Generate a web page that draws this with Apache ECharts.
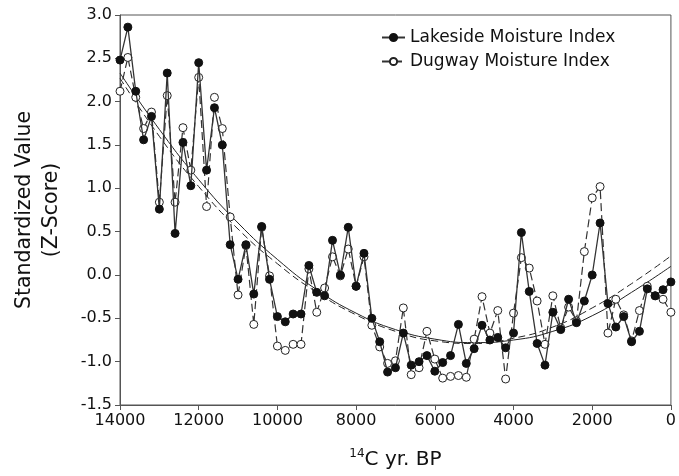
<!DOCTYPE html>
<html>
<head>
<meta charset="utf-8">
<script src="https://cdn.jsdelivr.net/npm/echarts@6/dist/echarts.min.js"></script>
<style>html,body{margin:0;padding:0;background:#fff}#c{width:679px;height:476px}</style>
</head>
<body>
<div id="c"></div>
<script>
const years = [14000,13800,13600,13400,13200,13000,12800,12600,12400,12200,12000,11800,11600,11400,11200,11000,10800,10600,10400,10200,10000,9800,9600,9400,9200,9000,8800,8600,8400,8200,8000,7800,7600,7400,7200,7000,6800,6600,6400,6200,6000,5800,5600,5400,5200,5000,4800,4600,4400,4200,4000,3800,3600,3400,3200,3000,2800,2600,2400,2200,2000,1800,1600,1400,1200,1000,800,600,400,200,0];
const lakeside = [2.48,2.86,2.12,1.56,1.83,0.76,2.33,0.48,1.53,1.03,2.45,1.21,1.93,1.50,0.35,-0.05,0.35,-0.22,0.56,-0.05,-0.48,-0.54,-0.45,-0.45,0.11,-0.20,-0.24,0.40,0.00,0.55,-0.13,0.25,-0.50,-0.77,-1.12,-1.07,-0.67,-1.04,-1.00,-0.93,-1.11,-1.01,-0.93,-0.57,-1.02,-0.85,-0.58,-0.75,-0.72,-0.84,-0.67,0.49,-0.19,-0.79,-1.04,-0.43,-0.63,-0.28,-0.55,-0.30,0.00,0.60,-0.33,-0.60,-0.48,-0.77,-0.65,-0.16,-0.24,-0.17,-0.08];
const dugway = [2.12,2.51,2.05,1.69,1.88,0.84,2.07,0.84,1.70,1.21,2.28,0.79,2.05,1.69,0.67,-0.23,0.34,-0.57,0.55,-0.01,-0.82,-0.87,-0.80,-0.80,0.07,-0.43,-0.15,0.21,-0.01,0.30,-0.13,0.21,-0.58,-0.83,-1.02,-0.99,-0.38,-1.15,-1.07,-0.65,-0.97,-1.19,-1.17,-1.16,-1.18,-0.74,-0.25,-0.67,-0.41,-1.20,-0.44,0.20,0.08,-0.30,-0.80,-0.24,-0.61,-0.37,-0.53,0.27,0.89,1.02,-0.67,-0.28,-0.46,-0.76,-0.41,-0.13,-0.24,-0.28,-0.43];
const trendYears = [14000,13000,12000,11000,10000,9000,8000,7000,6000,5000,4000,3000,2000,1000,0];
const lakesideTrend = [2.33,1.68,1.10,0.60,0.18,-0.17,-0.44,-0.63,-0.74,-0.78,-0.75,-0.65,-0.47,-0.20,0.10];
const dugwayTrend = [2.27,1.60,1.02,0.53,0.13,-0.20,-0.46,-0.65,-0.76,-0.79,-0.73,-0.60,-0.38,-0.10,0.22];
const yTicks = [-1.5,-1.0,-0.5,0.0,0.5,1.0,1.5,2.0,2.5,3.0];
const xTicks = [14000,12000,10000,8000,6000,4000,2000,0];

const pair = (xs, ys) => xs.map((x, i) => [x, ys[i]]);
const FONT = 'DejaVu Sans';
const chart = echarts.init(document.getElementById('c'), null, {renderer: 'canvas'});
chart.setOption({
  animation: false,
  backgroundColor: '#fff',
  grid: {left: 120, right: 3, top: 15, bottom: 71, show: true, borderColor: '#555', borderWidth: 1},
  legend: {
    orient: 'vertical', left: 376, top: 24, itemWidth: 23, itemHeight: 9, itemGap: 7,
    textStyle: {fontFamily: FONT, fontSize: 17, color: '#111'},
    data: ['Lakeside Moisture Index', 'Dugway Moisture Index']
  },
  xAxis: {
    type: 'value', inverse: true, min: xTicks[xTicks.length - 1], max: xTicks[0], interval: 2000,
    axisLine: {show: true, onZero: false, lineStyle: {color: '#555'}},
    axisTick: {show: true, length: 5, lineStyle: {color: '#555'}},
    splitLine: {show: false},
    axisLabel: {fontFamily: FONT, fontSize: 16, color: '#111', margin: 8, showMinLabel: true, showMaxLabel: true,
      formatter: v => String(v)},
    name: '{sup|14}{n|C yr. BP}', nameLocation: 'middle', nameGap: 43,
    nameTextStyle: {
      rich: {
        sup: {fontFamily: FONT, fontSize: 12, color: '#111', verticalAlign: 'top', lineHeight: 24},
        n: {fontFamily: FONT, fontSize: 20, color: '#111', lineHeight: 24}
      }
    }
  },
  yAxis: {
    type: 'value', min: yTicks[0], max: yTicks[yTicks.length - 1], interval: 0.5,
    axisLine: {show: true, onZero: false, lineStyle: {color: '#555'}},
    axisTick: {show: true, length: 5, lineStyle: {color: '#555'}},
    splitLine: {show: false},
    axisLabel: {fontFamily: FONT, fontSize: 16, color: '#111', margin: 8, formatter: v => v.toFixed(1)},
    name: 'Standardized Value\n(Z-Score)', nameLocation: 'middle', nameGap: 55,
    nameTextStyle: {fontFamily: FONT, fontSize: 20.5, color: '#111', lineHeight: 27}
  },
  series: [
    {
      name: 'Dugway Trend', type: 'line', data: pair(trendYears, dugwayTrend), smooth: 0.5, showSymbol: false,
      lineStyle: {color: '#222', width: 1, type: [7, 4]}, z: 1, silent: true
    },
    {
      name: 'Lakeside Trend', type: 'line', data: pair(trendYears, lakesideTrend), smooth: 0.5, showSymbol: false,
      lineStyle: {color: '#222', width: 1}, z: 1, silent: true
    },
    {
      name: 'Dugway Moisture Index', type: 'line', data: pair(years, dugway),
      symbol: 'circle', symbolSize: 8,
      lineStyle: {color: '#333', width: 1.2, type: [8, 4]},
      itemStyle: {color: '#fff', borderColor: '#222', borderWidth: 1}, z: 2
    },
    {
      name: 'Lakeside Moisture Index', type: 'line', data: pair(years, lakeside),
      symbol: 'circle', symbolSize: 8,
      lineStyle: {color: '#333', width: 1.3},
      itemStyle: {color: '#111', borderColor: '#111', borderWidth: 1}, z: 3
    }
  ]
});
</script>
</body>
</html>
